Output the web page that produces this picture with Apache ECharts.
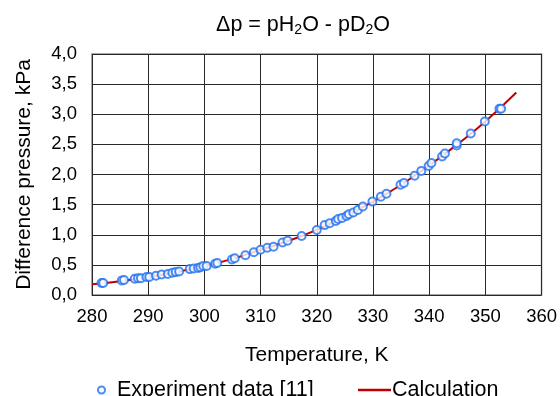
<!DOCTYPE html>
<html>
<head>
<meta charset="utf-8">
<script src="https://cdn.jsdelivr.net/npm/echarts@6/dist/echarts.min.js"></script>
<style>html,body{margin:0;padding:0;background:#fff;}#c{width:560px;height:396px;}</style>
</head>
<body>
<div id="c"></div>
<script>
const expT = [281.7, 282.0, 285.3, 285.7, 287.6, 288.2, 288.7, 289.7, 290.2, 291.4, 292.4, 293.5, 294.3, 294.9, 295.5, 297.4, 298.1, 298.9, 299.3, 299.8, 300.4, 301.9, 302.3, 304.9, 305.4, 307.3, 308.8, 310.0, 311.2, 312.3, 313.9, 314.8, 317.3, 320.0, 321.4, 322.3, 323.4, 323.8, 324.5, 325.3, 325.7, 326.5, 327.3, 328.2, 329.9, 331.4, 332.4, 334.9, 335.5, 337.4, 338.6, 339.9, 340.4, 342.3, 342.8, 344.9, 344.9, 347.4, 349.9, 352.5, 352.8];
const expP = [0.20, 0.20, 0.24, 0.25, 0.27, 0.28, 0.28, 0.30, 0.30, 0.32, 0.34, 0.35, 0.37, 0.38, 0.39, 0.43, 0.44, 0.45, 0.46, 0.48, 0.48, 0.52, 0.53, 0.59, 0.61, 0.66, 0.71, 0.75, 0.785, 0.80, 0.87, 0.90, 0.98, 1.08, 1.16, 1.19, 1.23, 1.26, 1.28, 1.31, 1.34, 1.37, 1.41, 1.47, 1.55, 1.63, 1.68, 1.83, 1.86, 1.98, 2.06, 2.14, 2.19, 2.30, 2.35, 2.48, 2.52, 2.68, 2.88, 3.09, 3.09];
const calcT = [280, 285, 290, 295, 300, 305, 310, 315, 320, 325, 330, 335, 340, 345, 350, 355.5];
const calcP = [0.18, 0.23, 0.30, 0.38, 0.48, 0.60, 0.75, 0.90, 1.08, 1.30, 1.55, 1.83, 2.15, 2.50, 2.88, 3.36];
const xTicks = [280, 290, 300, 310, 320, 330, 340, 350, 360];
const yTicks = [0, 0.5, 1, 1.5, 2, 2.5, 3, 3.5, 4];

const FONT = 'Liberation Sans, Arial, sans-serif';
const BLUE = '#1f6ff0';
const chart = echarts.init(document.getElementById('c'), null, {renderer: 'canvas'});
chart.setOption({
  backgroundColor: '#fff',
  animation: false,
  textStyle: {fontFamily: FONT, color: '#000'},
  title: {
    text: '{a|Δp = pH}{s|2}{a|O - pD}{s|2}{a|O}',
    left: 298, top: 8, textAlign: 'center',
    textStyle: {
      fontWeight: 'normal',
      rich: {
        a: {fontSize: 21.5, lineHeight: 24, fontFamily: FONT, fontWeight: 'normal', color: '#000'},
        s: {fontSize: 14, lineHeight: 12, verticalAlign: 'bottom', fontFamily: FONT, fontWeight: 'normal', color: '#000'}
      }
    }
  },
  legend: [{
    data: [{name: 'Experiment data [11]', icon: 'emptyCircle'}],
    left: 92, top: 374,
    itemWidth: 7, itemHeight: 7,
    itemStyle: {color: BLUE, borderColor: BLUE, borderWidth: 1.8},
    textStyle: {fontSize: 21.5, fontFamily: FONT, color: '#000', padding: [0, 0, 0, 7]}
  }, {
    data: [{name: 'Calculation', icon: 'rect'}],
    left: 353, top: 374,
    itemWidth: 33, itemHeight: 2.5,
    itemStyle: {color: '#c00000', borderWidth: 0},
    textStyle: {fontSize: 21.5, fontFamily: FONT, color: '#000', padding: [0, 0, 0, -4]}
  }],
  grid: {left: 92, right: 18, top: 54, bottom: 101, show: true, borderColor: '#8a8a8a', borderWidth: 1.5},
  xAxis: {
    type: 'value', min: 280, max: 360, interval: 10,
    name: 'Temperature, K', nameLocation: 'middle', nameGap: 50,
    nameTextStyle: {fontSize: 21, fontFamily: FONT, color: '#000'},
    axisLine: {show: false},
    axisTick: {show: false},
    axisLabel: {fontSize: 18.5, fontFamily: FONT, color: '#000', margin: 12,
      formatter: v => xTicks.includes(v) ? String(v) : ''},
    splitLine: {show: true, lineStyle: {color: '#2a2a2a', width: 1}}
  },
  yAxis: {
    type: 'value', min: 0, max: 4, interval: 0.5,
    name: 'Difference pressure, kPa', nameLocation: 'middle', nameGap: 57,
    nameTextStyle: {fontSize: 21, fontFamily: FONT, color: '#000'},
    axisLine: {show: false},
    axisTick: {show: false},
    axisLabel: {fontSize: 18.5, fontFamily: FONT, color: '#000', margin: 15,
      formatter: v => yTicks.includes(v) ? v.toFixed(1).replace('.', ',') : ''},
    splitLine: {show: true, lineStyle: {color: '#2a2a2a', width: 1}}
  },
  series: [{
    name: 'Calculation',
    type: 'line',
    data: calcT.map((t, i) => [t, calcP[i]]),
    smooth: true,
    symbol: 'none',
    lineStyle: {color: '#c00000', width: 2},
    itemStyle: {color: '#c00000'},
    z: 2
  }, {
    name: 'Experiment data [11]',
    type: 'scatter',
    data: expT.map((t, i) => [t, expP[i]]),
    symbol: 'circle',
    symbolSize: 8,
    itemStyle: {color: '#fff', borderColor: BLUE, borderWidth: 2},
    z: 3
  }]
});
</script>
</body>
</html>
